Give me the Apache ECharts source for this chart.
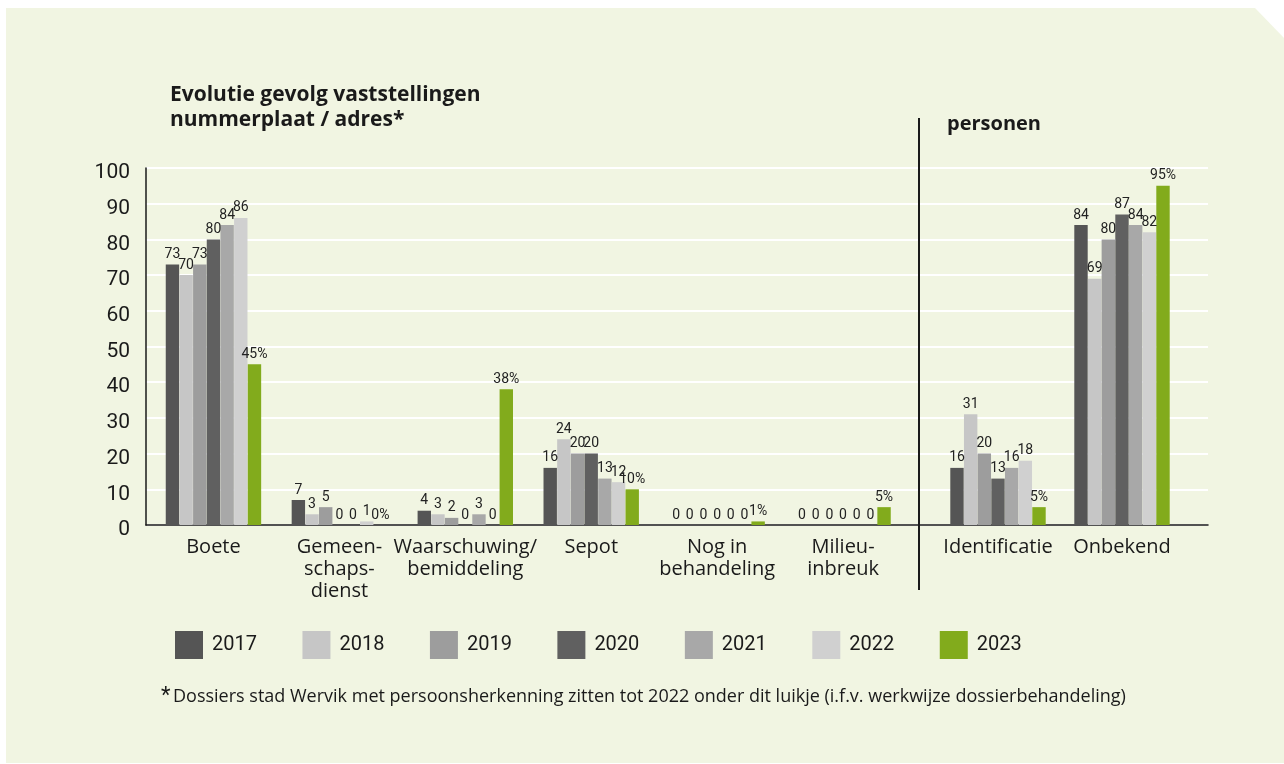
<!DOCTYPE html>
<html>
<head>
<meta charset="utf-8">
<script src="https://cdn.jsdelivr.net/npm/echarts@6/dist/echarts.min.js"></script>
<style>
html,body{margin:0;padding:0;background:#ffffff;}
#chart{width:1284px;height:764px;}
</style>
</head>
<body>
<div id="chart"></div>
<script>
// ---- data ----
var categoriesLeft = ['Boete', 'Gemeen-\nschaps-\ndienst', 'Waarschuwing/\nbemiddeling', 'Sepot', 'Nog in\nbehandeling', 'Milieu-\ninbreuk'];
var categoriesRight = ['Identificatie', 'Onbekend'];
var years = ['2017', '2018', '2019', '2020', '2021', '2022', '2023'];
var v2017 = [73, 7, 4, 16, 0, 0, 16, 84];
var v2018 = [70, 3, 3, 24, 0, 0, 31, 69];
var v2019 = [73, 5, 2, 20, 0, 0, 20, 80];
var v2020 = [80, 0, 0, 20, 0, 0, 13, 87];
var v2021 = [84, 0, 3, 13, 0, 0, 16, 84];
var v2022 = [86, 1, 0, 12, 0, 0, 18, 82];
var v2023 = [45, 0, 38, 10, 1, 5, 5, 95];
var yearValues = [v2017, v2018, v2019, v2020, v2021, v2022, v2023];
var colors = ['#555555', '#c6c6c6', '#9d9d9d', '#606060', '#a8a8a8', '#d0d0d0', '#82ab1c'];
var titleLeft = 'Evolutie gevolg vaststellingen\nnummerplaat / adres*';
var titleRight = 'personen';
var footnote = 'Dossiers stad Wervik met persoonsherkenning zitten tot 2022 onder dit luikje (i.f.v. werkwijze dossierbehandeling)';

var FONT = 'Roboto, "Noto Sans", sans-serif';
var FONT_W = '"Open Sans", Roboto, sans-serif';
var nLeft = categoriesLeft.length;

var series = [];
years.forEach(function (y, i) {
  var vals = yearValues[i];
  var isPct = (i === years.length - 1);
  var common = {
    name: y,
    type: 'bar',
    barWidth: 13.4,
    barGap: '2%',
    itemStyle: { color: colors[i] },
    label: {
      show: true, position: 'top', distance: 3,
      fontFamily: FONT, fontSize: 14, color: '#222222',
      formatter: isPct ? '{c}%' : '{c}'
    },
    emphasis: { disabled: true },
    animation: false
  };
  series.push(Object.assign({}, common, { xAxisIndex: 1, yAxisIndex: 1, data: vals.slice(0, nLeft) }));
  series.push(Object.assign({}, common, { xAxisIndex: 2, yAxisIndex: 2, data: vals.slice(nLeft) }));
});

var chart = echarts.init(document.getElementById('chart'), null, { renderer: 'canvas' });
var gridTop = 168, gridBottom = 764 - 525;

chart.setOption({
  animation: false,
  backgroundColor: '#ffffff',
  textStyle: { fontFamily: FONT },
  graphic: [
    { type: 'polygon', z: -10, silent: true,
      shape: { points: [[6, 8], [1255, 8], [1284, 38], [1284, 763], [6, 763]] },
      style: { fill: '#f1f5e2' } },
    { type: 'line', z: 10, silent: true,
      shape: { x1: 919, y1: 118, x2: 919, y2: 590 },
      style: { stroke: '#1a1a1a', lineWidth: 2 } },
    { type: 'text', left: 161, top: 685, z: 10,
      style: { text: '*', font: '22px Roboto, sans-serif', fill: '#1a1a1a' } },
    { type: 'text', left: 173, top: 688, z: 10,
      style: { text: footnote, font: '18px "Open Sans", Roboto, sans-serif', fill: '#1a1a1a' } }
  ],
  title: [
    { text: titleLeft, left: 165, top: 78,
      textStyle: { fontFamily: FONT_W, fontSize: 21, fontWeight: 'bold', color: '#1a1a1a', lineHeight: 25 } },
    { text: titleRight, left: 942, top: 109,
      textStyle: { fontFamily: FONT_W, fontSize: 20, fontWeight: 'bold', color: '#1a1a1a' } }
  ],
  legend: {
    left: 170, top: 626,
    itemWidth: 28, itemHeight: 28, itemGap: 45.5,
    icon: 'rect',
    data: years,
    selectedMode: false,
    textStyle: { fontFamily: FONT, fontSize: 20, color: '#1a1a1a', width: 50, padding: [0, 0, 0, 4] }
  },
  grid: [
    { left: 146, right: 1284 - 1208, top: gridTop, bottom: gridBottom },
    { left: 150.5, right: 1284 - 906, top: gridTop, bottom: gridBottom },
    { left: 936, right: 1284 - 1184, top: gridTop, bottom: gridBottom }
  ],
  xAxis: [
    { gridIndex: 0, type: 'category', data: [''],
      axisLine: { show: true, lineStyle: { color: '#1a1a1a', width: 1.5 } },
      axisTick: { show: false }, axisLabel: { show: false }, splitLine: { show: false } },
    { gridIndex: 1, type: 'category', data: categoriesLeft,
      axisLine: { show: false }, axisTick: { show: false },
      axisLabel: { fontFamily: FONT_W, fontSize: 20, color: '#1a1a1a', lineHeight: 22, margin: 11, interval: 0 } },
    { gridIndex: 2, type: 'category', data: categoriesRight,
      axisLine: { show: false }, axisTick: { show: false },
      axisLabel: { fontFamily: FONT_W, fontSize: 20, color: '#1a1a1a', lineHeight: 22, margin: 11, interval: 0 } }
  ],
  yAxis: [
    { gridIndex: 0, type: 'value', min: 0, max: 100, interval: 10,
      axisLine: { show: true, lineStyle: { color: '#1a1a1a', width: 1.5 } },
      axisTick: { show: false },
      axisLabel: { fontFamily: FONT, fontSize: 21, color: '#1a1a1a', margin: 16, verticalAlign: 'top', lineHeight: 10 },
      splitLine: { show: true, lineStyle: { color: '#ffffff', width: 2 } } },
    { gridIndex: 1, type: 'value', min: 0, max: 100, show: false, splitLine: { show: false } },
    { gridIndex: 2, type: 'value', min: 0, max: 100, show: false, splitLine: { show: false } }
  ],
  series: series
});
</script>
</body>
</html>
